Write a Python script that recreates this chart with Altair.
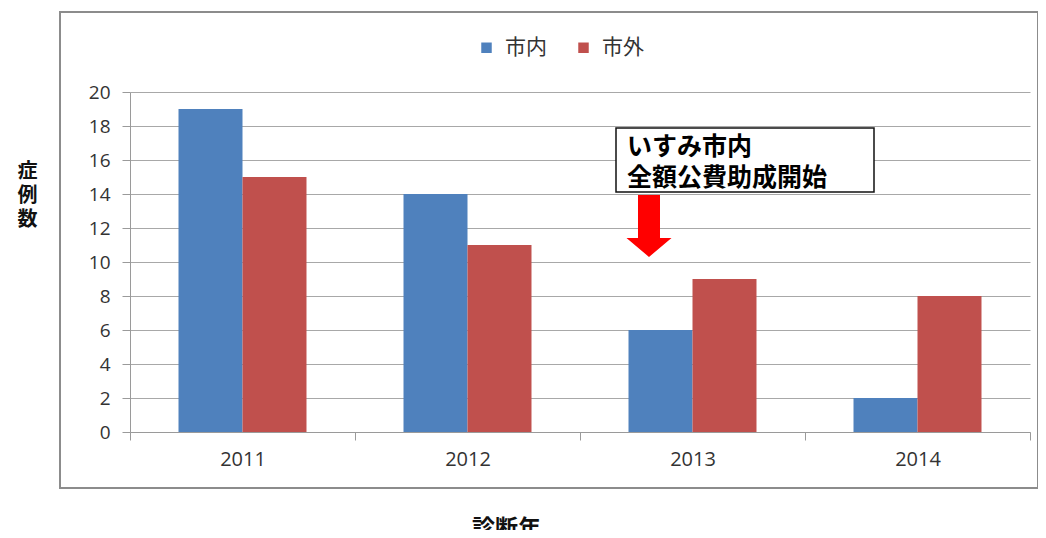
import altair as alt
import pandas as pd

years = ["2011", "2012", "2013", "2014"]
series_names = ["市内", "市外"]
inner_counts = [19, 14, 6, 2]
outer_counts = [15, 11, 9, 8]
bar_colors = ["#4F81BD", "#C0504D"]
y_ticks = list(range(0, 21, 2))

note_text = ["いすみ市内", "全額公費助成開始"]
note_box_top = 17.88
note_box_bottom = 14.12
note_text_y = 16.79
arrow_y = 12.12

rows = []
for i, yr in enumerate(years):
    rows.append({"year": yr, "series": series_names[0], "value": inner_counts[i]})
    rows.append({"year": yr, "series": series_names[1], "value": outer_counts[i]})
df = pd.DataFrame(rows)

FONT = "Open Sans"
JP = "Noto Sans CJK JP"

y_scale = alt.Scale(domain=[0, 20], nice=False)
y_axis = alt.Axis(
    values=y_ticks,
    labelOverlap=False,
    title=["症", "例", "数"],
    titleAngle=0,
    titleX=-103,
    titleY=79,
    titleAlign="center",
    titleBaseline="middle",
    titleFont=JP,
    titleFontSize=20,
    titleFontWeight="bold",
    titleLineHeight=24,
    titleColor="#111111",
    grid=True,
    gridColor="#a8a8a8",
    domainColor="#9a9a9a",
    tickColor="#9a9a9a",
    tickSize=8,
    labelFont=FONT,
    labelFontSize=19,
    labelColor="#333333",
    labelPadding=12,
)

bars = alt.Chart(df).mark_bar().encode(
    x=alt.X(
        "year:N",
        sort=years,
        scale=alt.Scale(paddingInner=0, paddingOuter=0),
        axis=alt.Axis(
            title="診断年",
            labelAngle=0,
            tickBand="extent",
            grid=False,
            domainColor="#9a9a9a",
            tickColor="#9a9a9a",
            tickSize=8,
            labelFont=FONT,
            labelFontSize=20,
            labelColor="#333333",
            labelPadding=9,
            titleFont=JP,
            titleFontSize=23,
            titleFontWeight="bold",
            titleColor="#111111",
            titleX=376,
            titleY=96,
            titleBaseline="middle",
        ),
    ),
    xOffset=alt.XOffset(
        "series:N",
        sort=series_names,
        scale=alt.Scale(paddingInner=0, paddingOuter=0.758),
    ),
    y=alt.Y("value:Q", scale=y_scale, axis=y_axis),
    color=alt.Color(
        "series:N",
        scale=alt.Scale(domain=series_names, range=bar_colors),
        legend=alt.Legend(
            title=None,
            orient="none",
            direction="horizontal",
            legendX=346,
            legendY=-55,
            symbolType="square",
            symbolSize=110,
            symbolStrokeWidth=0,
            labelFont=JP,
            labelFontSize=21,
            labelColor="#333333",
            labelOffset=8,
            columnPadding=26,
        ),
    ),
)

frame = alt.Chart(pd.DataFrame({"k": [0]})).mark_rect(
    filled=False, stroke="#8c8c8c", strokeWidth=2
).encode(
    x=alt.value(-70), x2=alt.value(908), y=alt.value(-80), y2=alt.value(396)
)

box_df = pd.DataFrame({"top": [note_box_top], "bottom": [note_box_bottom]})
note_box = alt.Chart(box_df).mark_rect(
    fill="white", stroke="#111111", strokeWidth=1.5
).encode(
    x=alt.value(486), x2=alt.value(744),
    y=alt.Y("top:Q", scale=y_scale, axis=y_axis), y2=alt.Y2("bottom"),
)

text_df = pd.DataFrame({"y": [note_text_y], "t": ["\n".join(note_text)]})
note_txt = alt.Chart(text_df).mark_text(
    align="left", baseline="middle", font=JP, fontSize=25, fontWeight="bold",
    color="#000000", lineBreak="\n", lineHeight=31
).encode(
    x=alt.value(497), y=alt.Y("y:Q", scale=y_scale, axis=y_axis), text="t:N"
)

arrow_path = ("M -0.489 -1.378 L 0.489 -1.378 L 0.489 0.533 L 1 0.533 "
              "L 0 1.378 L -1 0.533 L -0.489 0.533 Z")
arrow_df = pd.DataFrame({"y": [arrow_y]})
arrow = alt.Chart(arrow_df).mark_point(
    shape=arrow_path, filled=True, color="#FF0000", size=2025, opacity=1, strokeWidth=0
).encode(
    x=alt.value(519), y=alt.Y("y:Q", scale=y_scale, axis=y_axis)
)

chart = alt.layer(bars, frame, note_box, note_txt, arrow).properties(
    width=900,
    height=340,
    autosize=alt.AutoSizeParams(type="none"),
    padding={"left": 122, "top": 84, "right": 8, "bottom": 98},
    background="white",
).configure_view(stroke=None)

chart.save("out.html", embed_options={"renderer": "svg", "actions": False})
